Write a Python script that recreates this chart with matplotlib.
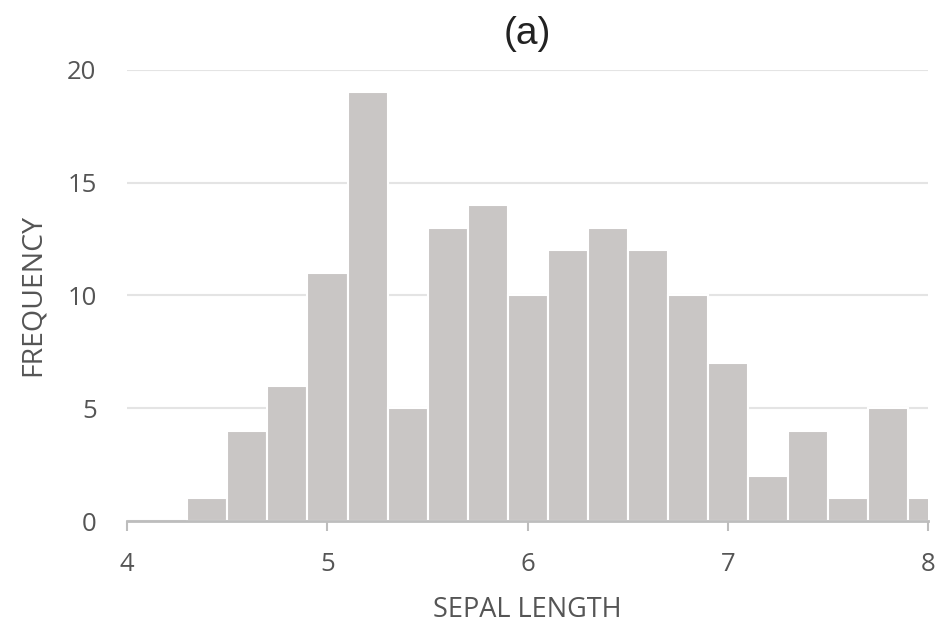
import matplotlib.pyplot as plt
import numpy as np

# histogram of sepal length, bins 0.2 wide
bin_left = np.round(np.arange(4.3, 8.0, 0.2), 1)
counts = [1, 4, 6, 11, 19, 5, 13, 14, 10, 12, 13, 12, 10, 7, 2, 4, 1, 5, 1]
x_ticks = [4, 5, 6, 7, 8]
y_ticks = [0, 5, 10, 15, 20]

bar_color = '#c9c6c5'
grid_color = '#e4e4e4'
text_color = '#555555'

fig = plt.figure(figsize=(9.35, 6.3), dpi=100)
ax = fig.add_axes([0.136, 0.173, 0.857, 0.716])

ax.bar(bin_left, counts, width=0.2, align='edge', color=bar_color,
       edgecolor='white', linewidth=1.5, zorder=2)

ax.set_xlim(4, 8)
ax.set_ylim(0, 20)
ax.set_xticks(x_ticks)
ax.set_yticks(y_ticks)
ax.grid(axis='y', color=grid_color, linewidth=1.5, zorder=0)

for side in ['top', 'right', 'left']:
    ax.spines[side].set_visible(False)
ax.spines['bottom'].set_color('#bdbdbd')
ax.spines['bottom'].set_linewidth(2)
ax.spines['bottom'].set_zorder(3)

ax.tick_params(axis='x', colors='#bdbdbd', length=7, width=1.5, labelcolor=text_color,
               labelsize=18.5, pad=15)
ax.tick_params(axis='y', length=0, labelcolor=text_color, labelsize=18.5, pad=22)
for lab in ax.get_xticklabels() + ax.get_yticklabels():
    lab.set_family('Open Sans')

ax.set_xlabel('SEPAL LENGTH', fontsize=19.5, color=text_color, family='Open Sans', labelpad=14)
ax.set_ylabel('FREQUENCY', fontsize=20.5, color=text_color, family='Open Sans', labelpad=15)
ax.set_title('(a)', fontsize=28, color='#222222', family='Liberation Sans', pad=19)

plt.savefig('out.png', dpi=100)
